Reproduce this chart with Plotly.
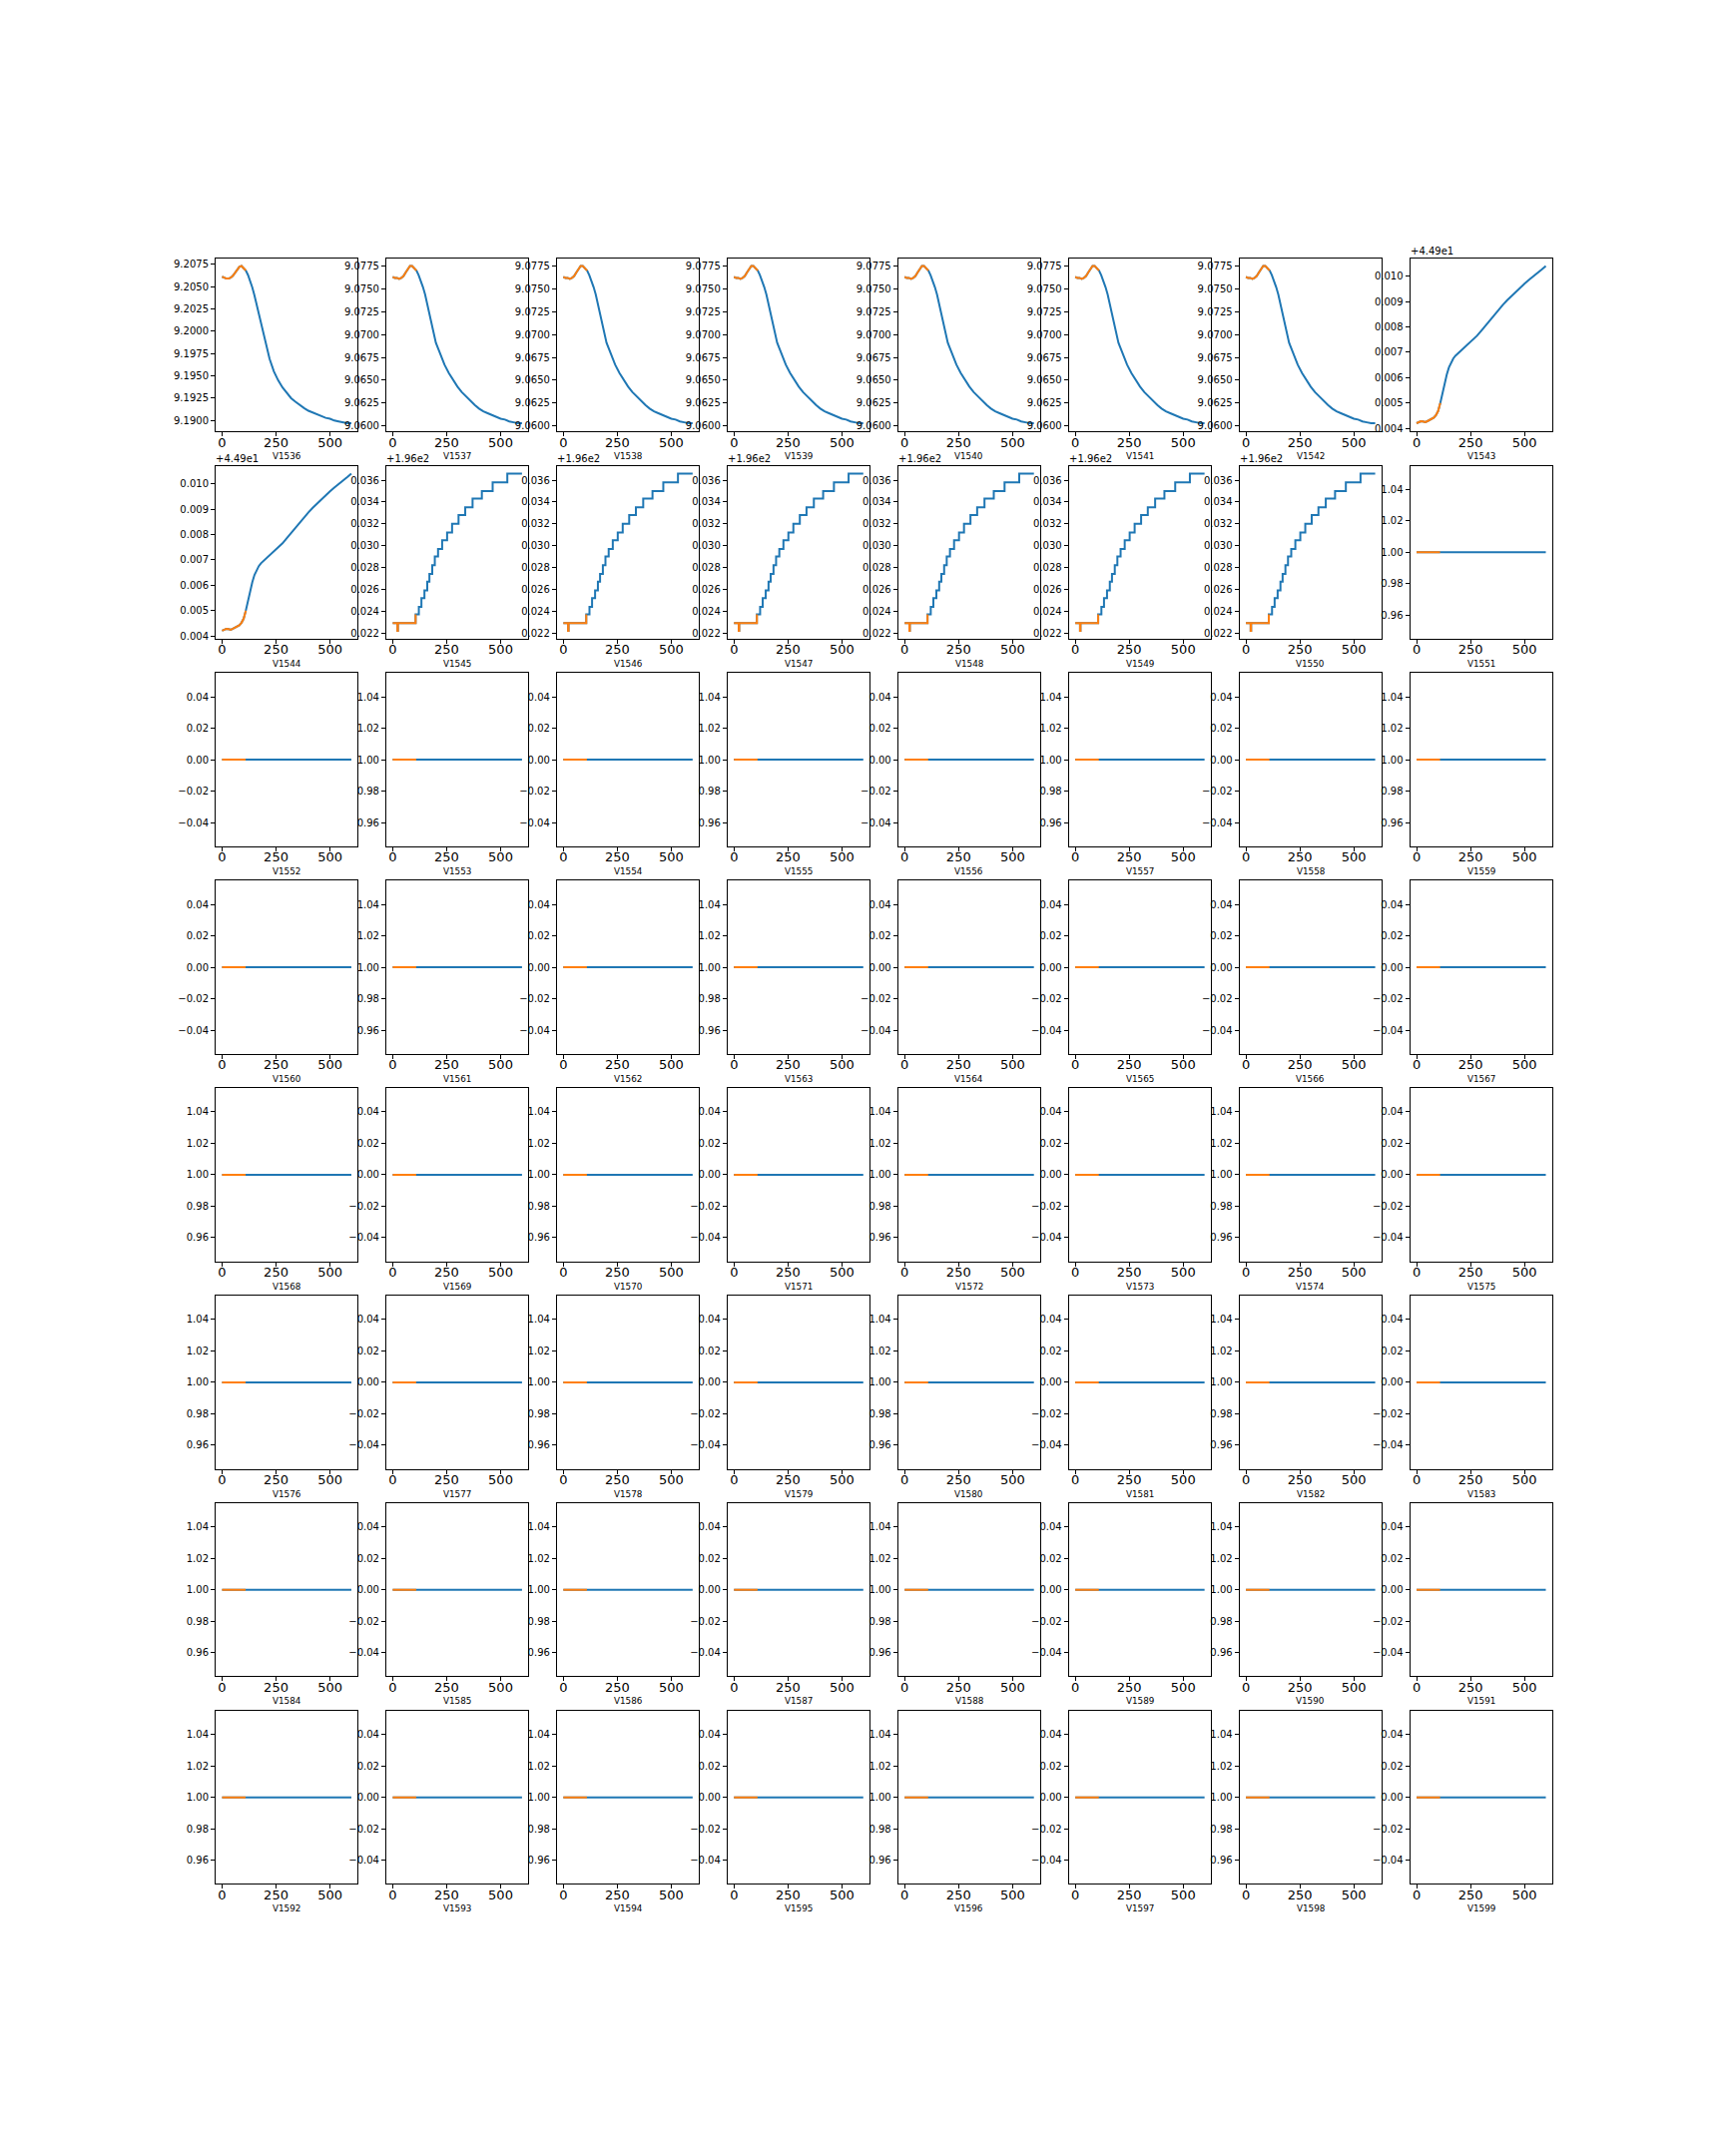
import plotly.graph_objects as go

# ---------------- data ----------------
panel_names = [f"V{n}" for n in range(1536, 1600)]

# sample positions (time index) for the smooth curves
t_curve = [0, 10, 20, 30, 40, 50, 60, 70, 80, 90, 100, 110, 120, 130, 140, 150, 160, 170, 180, 190, 200,
           220, 240, 260, 280, 300, 320, 340, 360, 380, 400, 420, 440, 460, 480, 500, 520, 540, 560, 580, 599]

v1536 = [9.2061, 9.2060, 9.2059, 9.2059, 9.2060, 9.2062, 9.2065, 9.2069, 9.2072, 9.2073, 9.2071,
         9.2068, 9.2063, 9.2057, 9.2049, 9.2040, 9.2030, 9.2019, 9.2008, 9.1997, 9.1987,
         9.1969, 9.1955, 9.1945, 9.1937, 9.1931, 9.1925, 9.1921, 9.1917, 9.1914, 9.1911,
         9.1909, 9.1907, 9.1905, 9.1903, 9.1902, 9.1900, 9.1899, 9.1898, 9.1897, 9.1897]

v1537_to_v1542 = [9.0763, 9.0762, 9.0762, 9.0761, 9.0762, 9.0764, 9.0768, 9.0772, 9.0775, 9.0775, 9.0773,
                  9.0770, 9.0765, 9.0759, 9.0752, 9.0744, 9.0734, 9.0723, 9.0712, 9.0701, 9.0691,
                  9.0679, 9.0667, 9.0658, 9.0650, 9.0643, 9.0637, 9.0632, 9.0627, 9.0623, 9.0619,
                  9.0616, 9.0614, 9.0612, 9.0610, 9.0608, 9.0607, 9.0605, 9.0604, 9.0603, 9.0603]

offset_1543 = 44.9
v1543_v1544_delta = [0.00420, 0.00425, 0.00428, 0.00427, 0.00424, 0.00428, 0.00432, 0.00437, 0.00442, 0.00452,
                     0.00468, 0.00500, 0.00540, 0.00580, 0.00612, 0.00640, 0.00660, 0.00675, 0.00686, 0.00694,
                     0.00702, 0.00716, 0.00732, 0.00748, 0.00765, 0.00785, 0.00806, 0.00828, 0.00848, 0.00868,
                     0.00887, 0.00905, 0.00922, 0.00940, 0.00956, 0.00970, 0.00985, 0.01000, 0.01012, 0.01026,
                     0.01040]

offset_step = 196.0
step_x = [0, 22, 24, 106, 121, 133, 147, 160, 170, 183, 195, 210, 229, 252, 275, 305, 336, 370, 413, 463, 531, 599]
step_delta = [0.0229, 0.0222, 0.0229, 0.0237, 0.0244, 0.0252, 0.0259, 0.0267, 0.0274, 0.0282, 0.0290,
              0.0297, 0.0305, 0.0312, 0.0320, 0.0328, 0.0335, 0.0343, 0.0350, 0.0358, 0.0366, 0.0366]
step_orange_points = 4

# constant panels V1551 .. V1599
flat_x = [0, 599]
flat_orange_x = [0, 109]
flat_levels = [1,
               0, 1, 0, 1, 0, 1, 0, 1,
               0, 1, 0, 1, 0, 0, 0, 0,
               1, 0, 1, 0, 1, 0, 1, 0,
               1, 0, 1, 0, 1, 0, 1, 0,
               1, 0, 1, 0, 1, 0, 1, 0,
               1, 0, 1, 0, 1, 0, 1, 0]

orange_until = 110

# tick labels
ticks_1536 = ["9.1900", "9.1925", "9.1950", "9.1975", "9.2000", "9.2025", "9.2050", "9.2075"]
ticks_1537 = ["9.0600", "9.0625", "9.0650", "9.0675", "9.0700", "9.0725", "9.0750", "9.0775"]
ticks_1543 = ["0.004", "0.005", "0.006", "0.007", "0.008", "0.009", "0.010"]
ticks_step = ["0.022", "0.024", "0.026", "0.028", "0.030", "0.032", "0.034", "0.036"]
ticks_zero = ["\u22120.04", "\u22120.02", "0.00", "0.02", "0.04"]
ticks_one = ["0.96", "0.98", "1.00", "1.02", "1.04"]
x_ticks = [0, 250, 500]

# ---------------- styling ----------------
W, H = 1728, 2160
LEFT, RIGHT, TOP, BOTTOM = 216.0, 1555.0, 259.0, 1890.0
NROW, NCOL = 8, 8
GAP = 0.2
aw = (RIGHT - LEFT) / (NCOL + (NCOL - 1) * GAP)
ah = (BOTTOM - TOP) / (NROW + (NROW - 1) * GAP)
BLUE = "#1f77b4"
ORANGE = "#ff7f0e"
FONT = "DejaVu Sans"

fig = go.Figure()
layout = dict(width=W, height=H, margin=dict(l=0, r=0, t=0, b=0),
              paper_bgcolor="white", plot_bgcolor="white", showlegend=False,
              font=dict(family=FONT, color="black"))
annotations = []


def parse(lbl):
    return float(lbl.replace("\u2212", "-"))


for i, name in enumerate(panel_names):
    r, c = divmod(i, NCOL)
    x0 = LEFT + c * aw * (1 + GAP)
    y0 = TOP + r * ah * (1 + GAP)
    xd = [x0 / W, (x0 + aw) / W]
    yd = [1 - (y0 + ah) / H, 1 - y0 / H]
    k = i + 1
    xa = f"x{k}" if k > 1 else "x"
    ya = f"y{k}" if k > 1 else "y"
    offset_text = None

    if i == 0:
        xs, ys = t_curve, v1536
        n_or = sum(1 for t in t_curve if t <= orange_until)
        tick_lbl, off = ticks_1536, 0.0
        shape = "linear"
    elif 1 <= i <= 6:
        xs, ys = t_curve, v1537_to_v1542
        n_or = sum(1 for t in t_curve if t <= orange_until)
        tick_lbl, off = ticks_1537, 0.0
        shape = "linear"
    elif i in (7, 8):
        xs = t_curve
        ys = [offset_1543 + d for d in v1543_v1544_delta]
        n_or = sum(1 for t in t_curve if t <= orange_until)
        tick_lbl, off = ticks_1543, offset_1543
        offset_text = "+4.49e1"
        shape = "linear"
    elif 9 <= i <= 14:
        xs = step_x
        ys = [offset_step + d for d in step_delta]
        n_or = step_orange_points
        tick_lbl, off = ticks_step, offset_step
        offset_text = "+1.96e2"
        shape = "hv"
    else:
        lvl = flat_levels[i - 15]
        xs = flat_x
        ys = [lvl, lvl]
        n_or = None
        tick_lbl = ticks_one if lvl == 1 else ticks_zero
        off = 0.0
        shape = "linear"

    fig.add_trace(go.Scatter(x=xs, y=ys, mode="lines", line=dict(color=BLUE, width=2, shape=shape),
                             xaxis=xa, yaxis=ya, hoverinfo="skip"))
    if n_or is None:
        fig.add_trace(go.Scatter(x=flat_orange_x, y=[ys[0], ys[0]], mode="lines",
                                 line=dict(color=ORANGE, width=2), xaxis=xa, yaxis=ya, hoverinfo="skip"))
        yr = [ys[0] - 0.055, ys[0] + 0.055]
    else:
        fig.add_trace(go.Scatter(x=xs[:n_or], y=ys[:n_or], mode="lines",
                                 line=dict(color=ORANGE, width=2, shape=shape),
                                 xaxis=xa, yaxis=ya, hoverinfo="skip"))
        lo, hi = min(ys), max(ys)
        pad = 0.05 * (hi - lo)
        yr = [lo - pad, hi + pad]

    tickvals = [off + parse(t) for t in tick_lbl]
    axis_common = dict(showgrid=False, zeroline=False, showline=True, mirror=True,
                       linecolor="black", linewidth=1, ticks="outside", ticklen=4,
                       tickwidth=1, tickcolor="black")
    layout[f"xaxis{k}" if k > 1 else "xaxis"] = dict(
        domain=xd, anchor=ya, range=[-29.95, 628.95], tickvals=x_ticks,
        ticktext=[str(v) for v in x_ticks], tickfont=dict(size=13, family=FONT, color="black"),
        ticklabelstandoff=-5, **axis_common)
    layout[f"yaxis{k}" if k > 1 else "yaxis"] = dict(
        domain=yd, anchor=xa, range=yr, tickvals=tickvals, ticktext=tick_lbl,
        tickfont=dict(size=10, family=FONT, color="black"), **axis_common)

    annotations.append(dict(text=name, xref="paper", yref="paper", x=(xd[0] + xd[1]) / 2, y=yd[0],
                            xanchor="center", yanchor="top", yshift=-18, showarrow=False,
                            font=dict(size=8.8, family=FONT, color="black")))
    if offset_text:
        annotations.append(dict(text=offset_text, xref="paper", yref="paper", x=xd[0], y=yd[1],
                                xanchor="left", yanchor="bottom", yshift=0, xshift=-2, showarrow=False,
                                font=dict(size=10, family=FONT, color="black")))

layout["annotations"] = annotations
fig.update_layout(**layout)
fig.write_html("out.html")
